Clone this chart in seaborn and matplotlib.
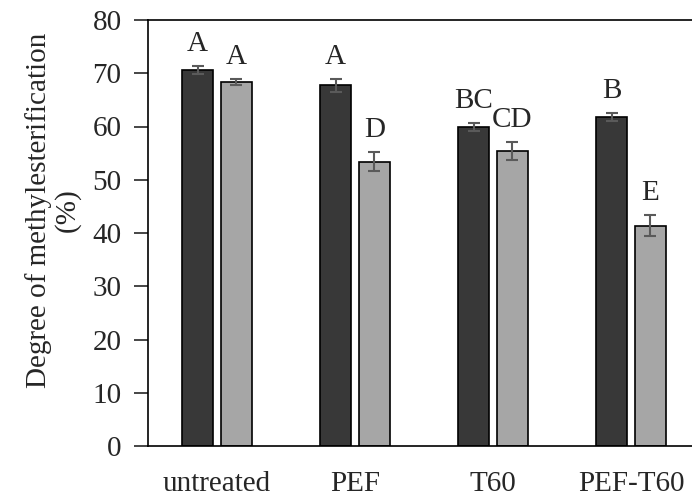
import pandas as pd
import matplotlib
matplotlib.use("Agg")
import matplotlib.pyplot as plt
import seaborn as sns

# values
treatments = ["untreated", "PEF", "T60", "PEF-T60"]
series = ["S1", "S2"]
dark_mean = [70.7, 67.7, 59.9, 61.8]
light_mean = [68.4, 53.4, 55.4, 41.4]
dark_err = [0.75, 1.2, 0.8, 0.75]
light_err = [0.55, 1.8, 1.65, 2.0]
dark_letters = ["A", "A", "BC", "B"]
light_letters = ["A", "D", "CD", "E"]

df = pd.DataFrame({
    "treatment": treatments * 2,
    "series": [series[0]] * 4 + [series[1]] * 4,
    "value": dark_mean + light_mean,
})
errs = dark_err + light_err
letters = dark_letters + light_letters

sns.set_style("white")
plt.rcParams["font.family"] = ["Liberation Serif", "DejaVu Serif"]

fig = plt.figure(figsize=(6.92, 5), dpi=100)
ax = fig.add_axes([148 / 692, 54 / 500, 552 / 692, 426 / 500])

sns.barplot(data=df, x="treatment", y="value", hue="series", order=treatments,
            palette=["#383838", "#a6a6a6"], width=0.565, gap=0.2,
            edgecolor="black", linewidth=1.2, errorbar=None, legend=False, ax=ax)

# error bars and significance letters, series by series
bars = [p for p in ax.patches if p.get_height() > 0]
for i, s in enumerate(series):
    sub = df[df["series"] == s]
    xs = [b.get_x() + b.get_width() / 2 for b in bars[i * 4:(i + 1) * 4]]
    e = errs[i * 4:(i + 1) * 4]
    ax.errorbar(xs, sub["value"], yerr=e, fmt="none", ecolor="#5a5a5a",
                elinewidth=1.5, capsize=4.5, capthick=1.5, zorder=5)
    for x, v, er, lab in zip(xs, sub["value"], e, letters[i * 4:(i + 1) * 4]):
        ax.text(x, v + er + 2.8, lab, ha="center", va="baseline", fontsize=21)

ax.set_xlim(-0.5, 3.5)
ax.set_ylim(0, 80)
ax.set_yticks(range(0, 81, 10))
ax.set_xlabel("")
ax.set_ylabel("Degree of methylesterification\n(%)", fontsize=21, linespacing=1.1)
ax.yaxis.set_label_coords(-0.122, 0.554)
ax.tick_params(axis="y", labelsize=21, direction="out", length=10, width=1.2, left=True, pad=9)
ax.tick_params(axis="x", labelsize=21, length=0, pad=18)
for sp in ax.spines.values():
    sp.set_color("black")
    sp.set_linewidth(1.2)

fig.savefig("out.png", dpi=100)
